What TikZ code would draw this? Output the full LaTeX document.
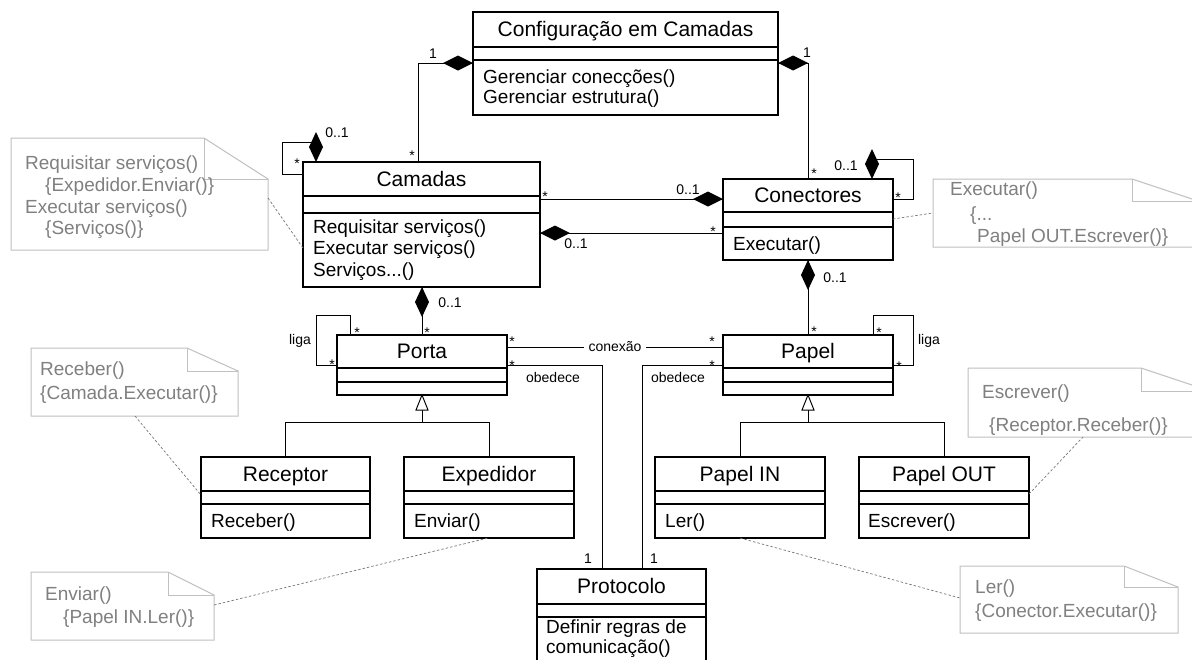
\documentclass[tikz,border=0pt]{standalone}
\usepackage{fontspec}
\setmainfont{Liberation Sans}
\usetikzlibrary{fit,calc}
\definecolor{notegray}{RGB}{192,192,192}
\definecolor{notetext}{RGB}{128,128,128}
\definecolor{linkgray}{RGB}{120,120,120}
\tikzset{
  classbox/.style={draw=black, line width=1.1pt, inner sep=0pt, outer sep=0pt},
  ctitle/.style={font=\fontsize{21}{25}\selectfont, anchor=base, inner sep=0pt},
  cmeth/.style={font=\fontsize{19}{23}\selectfont, anchor=base west, inner sep=0pt},
  mult/.style={font=\fontsize{14}{16}\selectfont, inner sep=0pt, anchor=base},
  conn/.style={draw=black, line width=0.9pt},
  gen/.style={draw=black, line width=1pt},
  notebox/.style={draw=notegray, line width=1pt},
  notetxt/.style={font=\fontsize{19}{23}\selectfont, text=notetext, anchor=base west, inner sep=0pt},
  notelink/.style={draw=linkgray, line width=0.7pt, dash pattern=on 2.5pt off 2pt},
}
% class: name, left, top, right, bottom, sep1, sep2, title
\newcommand\umlclass[8]{%
  \node[classbox, fit={(#2,#3) (#4,#5)}] (#1) {};
  \draw[line width=1.1pt] (#2,#6) -- (#4,#6) (#2,#7) -- (#4,#7);
  \node[ctitle] (#1-t) at ({(#2+#4)/2},{(#3+#6)/2+7}) {#8};
}
% note: name, left, top, right, bottom, foldx, foldy
\newcommand\umlnote[7]{%
  \draw[notebox, fill=white] (#2,#3) -- (#6,#3) -- (#4,#7) -- (#4,#5) -- (#2,#5) -- cycle;
  \draw[notebox] (#6,#3) -- (#6,#7) -- (#4,#7);
  \node[inner sep=0pt, outer sep=0pt, fit={(#2,#3) (#4,#5)}] (#1) {};
}
\newcommand\dmdW[1]{\fill #1 -- ++(-15,-7.5) -- ++(-15,7.5) -- ++(15,7.5) -- cycle;}
\newcommand\dmdE[1]{\fill #1 -- ++(15,-7.5) -- ++(15,7.5) -- ++(-15,7.5) -- cycle;}
\newcommand\dmdN[1]{\fill #1 -- ++(-7,-15) -- ++(7,-15) -- ++(7,15) -- cycle;}
\newcommand\dmdS[1]{\fill #1 -- ++(-7,15) -- ++(7,15) -- ++(7,-15) -- cycle;}
\begin{document}
\begin{tikzpicture}[x=1pt,y=-1pt]
\useasboundingbox (0,0) rectangle (1192,659);
\clip (0,0) rectangle (1192,659);
\fill[white] (0,0) rectangle (1192,659);

% ---------- classes ----------
\umlclass{conf}{473}{12}{778}{115}{47}{60}{Configuração em Camadas}
\node[cmeth] (conf-m1) at (483,83) {Gerenciar conecções()};
\node[cmeth] (conf-m2) at (483,103) {Gerenciar estrutura()};

\umlclass{cam}{303}{162}{540}{287}{196}{213}{Camadas}
\node[cmeth] (cam-m1) at (313,233) {Requisitar serviços()};
\node[cmeth] (cam-m2) at (313,254.5) {Executar serviços()};
\node[cmeth] (cam-m3) at (313,276) {Serviços...()};

\umlclass{conn}{723}{179}{893}{260}{212}{227}{Conectores}
\node[cmeth] (conn-m1) at (733,250) {Executar()};

\umlclass{porta}{337}{335}{507}{395}{368}{382}{Porta}
\umlclass{papel}{723}{335}{893}{395}{368}{382}{Papel}

\umlclass{recep}{201}{457}{370}{538}{491}{504}{Receptor}
\node[cmeth] (recep-m1) at (211,527) {Receber()};
\umlclass{exped}{404}{457}{574}{538}{491}{504}{Expedidor}
\node[cmeth] (exped-m1) at (414,527) {Enviar()};
\umlclass{pin}{655}{457}{825}{538}{491}{504}{Papel IN}
\node[cmeth] (pin-m1) at (665,527) {Ler()};
\umlclass{pout}{859}{457}{1029}{538}{491}{504}{Papel OUT}
\node[cmeth] (pout-m1) at (868,527) {Escrever()};

\umlclass{proto}{537}{569}{706}{700}{604}{617}{Protocolo}
\node[cmeth] (proto-m1) at (546,633) {Definir regras de};
\node[cmeth] (proto-m2) at (546,653) {comunicação()};

% ---------- compositions ----------
\draw[conn] (conf.west |- 0,63) -- (418,63) -- (418,0 |- cam.north);
\dmdW{(conf.west |- 0,63)}
\draw[conn] (conf.east |- 0,63) -- (808,63) -- (808,0 |- conn.north);
\dmdE{(conf.east |- 0,63)}
\draw[conn] (cam.east |- 0,199) -- (conn.west |- 0,199);
\dmdW{(conn.west |- 0,199)}
\draw[conn] (cam.east |- 0,233) -- (conn.west |- 0,233);
\dmdE{(cam.east |- 0,233)}
\draw[conn] (316,142) -- (282,142) -- (282,174) -- (cam.west |- 0,174);
\dmdN{(316,0 |- cam.north)}
\draw[conn] (872,159) -- (913,159) -- (913,199) -- (conn.east |- 0,199);
\dmdN{(872,0 |- conn.north)}
\draw[conn] (422,0 |- cam.south) -- (422,0 |- porta.north);
\dmdS{(422,0 |- cam.south)}
\draw[conn] (808,0 |- conn.south) -- (808,0 |- papel.north);
\dmdS{(808,0 |- conn.south)}

% ---------- self associations ----------
\draw[conn] (350,0 |- porta.north) -- (350,315) -- (316,315) -- (316,365) -- (porta.west |- 0,365);
\draw[conn] (873,0 |- papel.north) -- (873,315) -- (913,315) -- (913,365) -- (papel.east |- 0,365);

% ---------- conexao / obedece ----------
\draw[conn] (porta.east |- 0,347) -- node[font=\fontsize{14}{16}\selectfont, fill=white, inner xsep=5pt, inner ysep=1pt] (conexao) {conexão} (papel.west |- 0,347);
\draw[conn] (porta.east |- 0,365) -- (602,365) -- (602,0 |- proto.north);
\draw[conn] (papel.west |- 0,365) -- (642,365) -- (642,0 |- proto.north);

% ---------- generalizations ----------
\draw[gen] (recep.north) -- (recep.north |- 0,422) -- (exped.north |- 0,422) -- (exped.north);
\draw[gen] (porta.south |- 0,422) -- (porta.south |- 0,410);
\draw[gen, fill=white] (porta.south) -- ++(-6,15) -- ++(12,0) -- cycle;
\draw[gen] (pin.north) -- (pin.north |- 0,422) -- (pout.north |- 0,422) -- (pout.north);
\draw[gen] (papel.south |- 0,422) -- (papel.south |- 0,410);
\draw[gen, fill=white] (papel.south) -- ++(-6,15) -- ++(12,0) -- cycle;

% ---------- multiplicities and labels ----------
\node[mult] (l1) at (433,58) {1};
\node[mult] (l2) at (412,160) {*};
\node[mult] (l3) at (807,57) {1};
\node[mult] (l4) at (814,178) {*};
\node[mult] (l5) at (337,137) {0..1};
\node[mult] (l6) at (297,168) {*};
\node[mult] (l7) at (545,201) {*};
\node[mult] (l8) at (688,194) {0..1};
\node[mult] (l9) at (576,248) {0..1};
\node[mult] (l10) at (713,236) {*};
\node[mult] (l11) at (846,170) {0..1};
\node[mult] (l12) at (898,202) {*};
\node[mult] (l13) at (450,307) {0..1};
\node[mult] (l14) at (427,337) {*};
\node[mult] (l15) at (835,282) {0..1};
\node[mult] (l16) at (814,336) {*};
\node[mult] (l17) at (300,344) {liga};
\node[mult] (l18) at (357,337) {*};
\node[mult] (l19) at (332,369) {*};
\node[mult] (l20) at (929,344) {liga};
\node[mult] (l21) at (879,337) {*};
\node[mult] (l22) at (899,371) {*};
\node[mult] (l23) at (512,346) {*};
\node[mult] (l24) at (712,346) {*};
\node[mult] (l25) at (512,370) {*};
\node[mult] (l26) at (712,370) {*};
\node[mult] (l27) at (553,382) {obedece};
\node[mult] (l28) at (678,382) {obedece};
\node[mult] (l29) at (588,563) {1};
\node[mult] (l30) at (654,563) {1};

% ---------- notes ----------
\umlnote{note1}{11}{138}{268}{250}{204}{179}
\node[notetxt] (n1a) at (25,169) {Requisitar serviços()};
\node[notetxt] (n1b) at (45,191) {\{Expedidor.Enviar()\}};
\node[notetxt] (n1c) at (25,213) {Executar serviços()};
\node[notetxt] (n1d) at (45,234) {\{Serviços()\}};
\draw[notelink] (note1.east |- 0,198) -- (cam.west |- 0,248);

\umlnote{note2}{933}{179}{1198}{247}{1132}{201}
\node[notetxt] (n2a) at (950,195) {Executar()};
\node[notetxt] (n2b) at (970,220) {\{...};
\node[notetxt] (n2c) at (977,242) {Papel OUT.Escrever()\}};
\draw[notelink] (conn.east |- 0,219) -- (note2.west |- 0,213);

\umlnote{note3}{31}{348}{238}{416}{187}{371}
\node[notetxt] (n3a) at (40,375) {Receber()};
\node[notetxt] (n3b) at (40,399) {\{Camada.Executar()\}};
\draw[notelink] (135,0 |- note3.south) -- (recep.west |- 0,495);

\umlnote{note4}{31}{572}{214}{640}{168}{595}
\node[notetxt] (n4a) at (45,600) {Enviar()};
\node[notetxt] (n4b) at (63,623) {\{Papel IN.Ler()\}};
\draw[notelink] (note4.east |- 0,605) -- (488,0 |- exped.south);

\umlnote{note5}{968}{368}{1210}{437}{1141}{391}
\node[notetxt] (n5a) at (982,398) {Escrever()};
\node[notetxt] (n5b) at (989,431) {\{Receptor.Receber()\}};
\draw[notelink] (pout.east |- 0,494) -- (1083,0 |- note5.south);

\umlnote{note6}{960}{566}{1178}{633}{1124}{587}
\node[notetxt] (n6a) at (975,593) {Ler()};
\node[notetxt] (n6b) at (975,617) {\{Conector.Executar()\}};
\draw[notelink] (pin.south) -- (note6.west |- 0,598);
\end{tikzpicture}
\end{document}
